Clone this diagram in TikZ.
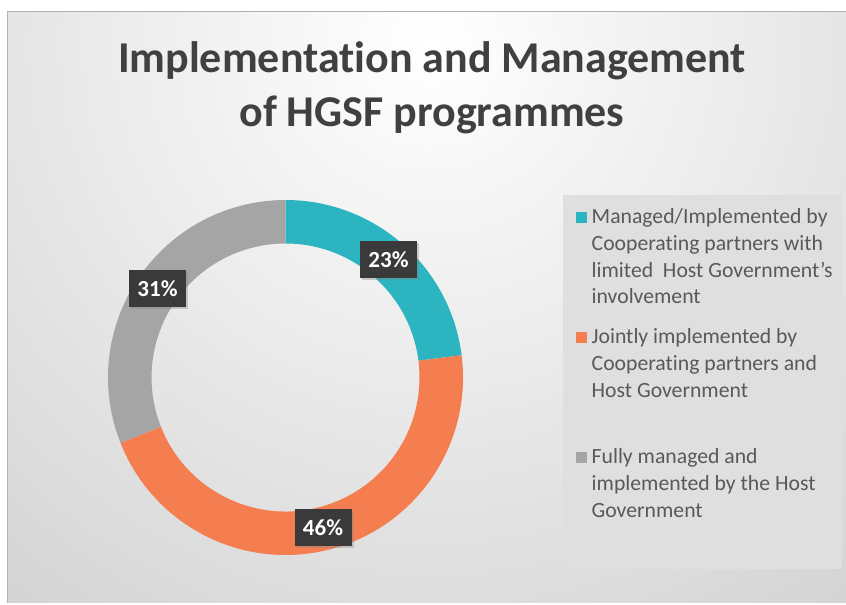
\documentclass[tikz,border=0pt]{standalone}
\usepackage{fontspec}
\setmainfont{Carlito}[Ligatures=NoCommon]
\usetikzlibrary{shadows}
\definecolor{sliceteal}{HTML}{2CB5C0}
\definecolor{sliceorange}{HTML}{F47E50}
\definecolor{slicegray}{HTML}{A5A5A5}
\definecolor{titlegray}{HTML}{404040}
\definecolor{legendgray}{HTML}{595959}
\definecolor{labelbg}{HTML}{3A3A3A}
\definecolor{legendbg}{HTML}{DFDFDF}
\tikzset{
  pctlabel/.style={fill=labelbg, text=white, inner sep=0pt,
    font=\bfseries\fontsize{23}{23}\selectfont,
    minimum width=57pt, minimum height=37pt,
    drop shadow={opacity=0.35, shadow xshift=2pt, shadow yshift=-2pt}},
  legendkey/.style={minimum size=11pt, inner sep=0pt},
  legendtext/.style={anchor=base west, align=left, inner sep=0pt,
    text=legendgray, font=\fontsize{21.7}{26.7}\selectfont},
}
\begin{document}
\begin{tikzpicture}[x=1pt, y=1pt]
	\useasboundingbox (0,0) rectangle (846,605);
	% Background panel
	\fill[white] (0,0) rectangle (846,605);
	\begin{scope}
		\clip (7,2) rectangle (846,593);
		\shade[inner color=white, outer color=black!24] (430,560) circle (1000);
	\end{scope}
	\draw[black!30, line width=1pt] (7,2) |- (846,593);
	% Title (anchor base = last line)
	\node[anchor=base, align=center, text=titlegray,
		font=\bfseries\fontsize{44}{54}\selectfont] (title) at (432,478)
		{Implementation and Management\\of HGSF programmes};
	% Donut slices
	\coordinate (C) at (285.5,227.5);
	\fill[sliceteal] (C) ++(90:177.5) arc[start angle=90, end angle=7.2, radius=177.5]
		-- ++(7.2:-43.5) arc[start angle=7.2, end angle=90, radius=134] -- cycle;
	\fill[sliceorange] (C) ++(7.2:177.5) arc[start angle=7.2, end angle=-158.4, radius=177.5]
		-- ++(-158.4:-43.5) arc[start angle=-158.4, end angle=7.2, radius=134] -- cycle;
	\fill[slicegray] (C) ++(-158.4:177.5) arc[start angle=-158.4, end angle=-270, radius=177.5]
		-- ++(-270:-43.5) arc[start angle=-270, end angle=-158.4, radius=134] -- cycle;
	% Data labels
	\node[pctlabel] (L23) at (388.5,345) {23\%};
	\node[pctlabel] (L31) at (157.5,316.7) {31\%};
	\node[pctlabel] (L46) at (323,77.3) {46\%};
	% Legend
	\fill[legendbg] (563,36) rectangle (842,410);
	\node[legendkey, fill=sliceteal] (K1) at (581,387.5) {};
	\node[legendtext] (T1) at (591.5,301) {Managed/Implemented by\\Cooperating partners with\\limited\ \ Host Government’s\\involvement};
	\node[legendkey, fill=sliceorange] (K2) at (581,267.5) {};
	\node[legendtext] (T2) at (591.5,207.6) {Jointly implemented by\\Cooperating partners and\\Host Government};
	\node[legendkey, fill=slicegray] (K3) at (581,147.5) {};
	\node[legendtext] (T3) at (591.5,87.6) {Fully managed and\\implemented by the Host\\Government};
\end{tikzpicture}
\end{document}
